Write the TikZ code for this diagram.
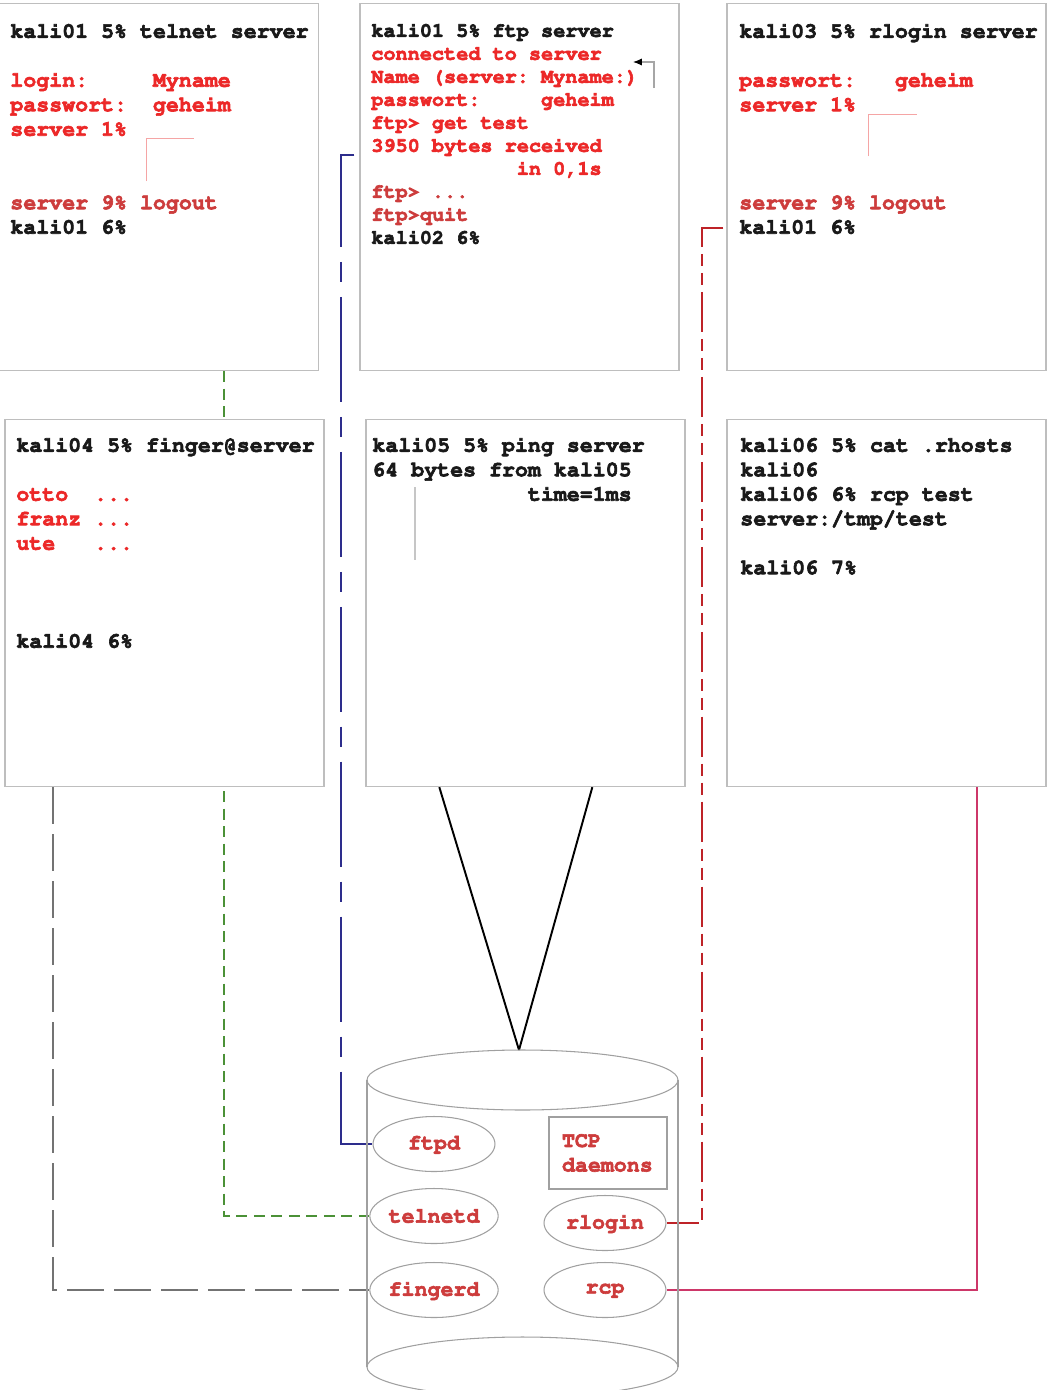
\documentclass[tikz,border=0pt]{standalone}
\usepackage[T1,TU]{fontenc}
\usetikzlibrary{shapes.geometric,arrows.meta,backgrounds}
\definecolor{boxgray}{RGB}{190,190,190}
\definecolor{cylgray}{RGB}{160,160,160}
\definecolor{termred}{RGB}{236,40,40}
\definecolor{dimred}{RGB}{205,60,60}
\definecolor{termblack}{RGB}{25,25,25}
\definecolor{markpink}{RGB}{245,165,165}
\definecolor{ftpblue}{RGB}{45,45,140}
\definecolor{rlogred}{RGB}{190,35,40}
\definecolor{telgreen}{RGB}{75,145,55}
\definecolor{fingray}{RGB}{115,115,115}
\definecolor{rcppink}{RGB}{205,55,105}
\newcommand\heavytext{\special{pdf:literal direct 2 Tr 0.35 w}}
\newcommand\termfont{\heavytext\frenchspacing\fontencoding{T1}\fontfamily{pcr}\bfseries\fontsize{12.3}{13.94}\selectfont}
\newcommand\smallterm{\heavytext\frenchspacing\fontencoding{T1}\fontfamily{pcr}\bfseries\fontsize{11.5}{13.09}\selectfont}

\begin{document}
\begin{tikzpicture}[x=0.02cm,y=-0.02cm,
  screen/.style={draw=boxgray,line width=0.8pt,fill=white,minimum width=6.38cm,minimum height=7.34cm,inner sep=0},
  term/.style={anchor=north west,align=left,inner sep=0,font=\termfont,text=termblack},
  daemon/.style={ellipse,draw=cylgray,line width=0.6pt,fill=white,minimum width=2.44cm,minimum height=1.1cm,inner sep=0,font=\termfont,text=dimred},
  link/.style={line width=1.1pt}]
\useasboundingbox (0,0) rectangle (1052,1390);

\node[screen] (telnetwin) at (159,187) {};
\node[screen] (ftpwin) at (519.5,187) {};
\node[screen] (rloginwin) at (886.5,187) {};
\node[screen] (fingerwin) at (164.5,603) {};
\node[screen] (pingwin) at (525.5,603) {};
\node[screen] (rcpwin) at (886.5,603) {};

\node[term] (telnettxt) at (10,23) {kali01 5\% telnet server\\~\\
\textcolor{termred}{login:~~~~~Myname}\\
\textcolor{termred}{passwort:~~geheim}\\
\textcolor{termred}{server 1\%}\\~\\~\\
\textcolor{dimred}{server 9\% logout}\\
kali01 6\%};
\node[term,font=\smallterm] (ftptxt) at (371,23) {kali01 5\% ftp server\\
\textcolor{termred}{connected to server}\\
\textcolor{termred}{Name (server: Myname:)}\\
\textcolor{termred}{passwort:~~~~~geheim}\\
\textcolor{termred}{ftp> get test}\\
\textcolor{termred}{3950 bytes received}\\
\textcolor{termred}{~~~~~~~~~~~~in 0,1s}\\
\textcolor{dimred}{ftp> ...}\\
\textcolor{dimred}{ftp>quit}\\
kali02 6\%};
\node[term] (rlogintxt) at (739,23) {kali03 5\% rlogin server\\~\\
\textcolor{termred}{passwort:~~~geheim}\\
\textcolor{termred}{server 1\%}\\~\\~\\~\\
\textcolor{dimred}{server 9\% logout}\\
kali01 6\%};
\node[term] (fingertxt) at (16,437) {kali04 5\% finger@server\\~\\
\textcolor{termred}{otto~~...}\\
\textcolor{termred}{franz~...}\\
\textcolor{termred}{ute~~~...}\\~\\~\\~\\
kali04 6\%};
\node[term] (pingtxt) at (372,437) {kali05 5\% ping server\\
64 bytes from kali05\\
~~~~~~~~~~~~time=1ms};
\node[term] (rcptxt) at (740,437) {kali06 5\% cat .rhosts\\
kali06\\
kali06 6\% rcp test\\
server:/tmp/test\\~\\
kali06 7\%};

\draw[markpink,line width=0.5pt] (146,181) -- (146,138) -- (194,138);
\draw[markpink,line width=0.5pt] (868,156) -- (868,114) -- (917,114);
\draw[gray!45,line width=0.6pt] (415,487) -- (415,560);
\draw[gray!70,line width=0.6pt,-{Latex[black,length=5pt,width=4pt]}] (654,88) -- (654,62) -- (633,62);

\coordinate (cyltop) at (519,1050);
\draw[cylgray,line width=0.6pt] (522.5,1080) ellipse [x radius=3.11cm,y radius=0.6cm];
\draw[cylgray,line width=0.6pt] (367,1080) -- (367,1367) (678,1080) -- (678,1367);
\draw[cylgray,line width=0.6pt] (522.5,1367) ellipse [x radius=3.11cm,y radius=0.6cm];

\node[daemon] (ftpd) at (434,1144) {ftpd};
\node[daemon] (telnetd) at (434,1216) {telnetd};
\node[daemon] (fingerd) at (434,1290) {fingerd};
\node[daemon] (rlogind) at (605,1223) {rlogin};
\node[daemon] (rcpd) at (605,1290) {rcp};
\node[draw=cylgray,line width=0.6pt,minimum width=2.36cm,minimum height=1.44cm,align=left,text width=1.84cm,inner sep=0,font=\termfont,text=dimred] (tcp) at (608,1153) {TCP\\daemons};

\begin{scope}[on background layer]
\draw[link,telgreen,dash pattern=on 0.22cm off 0.13cm] (telnetwin.south west) ++(225,0) |- (telnetd.west);
\draw[link,ftpblue,dash pattern=on 2.1cm off 0.3cm on 0.4cm off 0.3cm] (ftpwin.north west) ++(-5,152) -- ++(-13,0) |- (ftpd.west);
\draw[link,rlogred,dash pattern=on 0.8cm off 0.14cm on 0.24cm off 0.14cm on 0.24cm off 0.14cm] (rloginwin.north west) ++(-3,225) -- ++(-21,0) |- (rlogind.east);
\draw[link,fingray,dash pattern=on 0.74cm off 0.2cm] (fingerwin.south west) ++(49,0) |- (fingerd.west);
\draw[link,rcppink] (rcpwin.south west) ++(251,0) |- (rcpd.east);
\draw[link,black] (pingwin.south west) ++(74,0) -- (cyltop);
\draw[link,black] (pingwin.south west) ++(227,0) -- (cyltop);
\end{scope}
\end{tikzpicture}
\end{document}
